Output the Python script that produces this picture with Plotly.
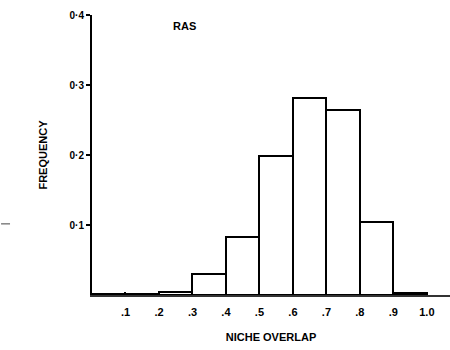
import plotly.graph_objects as go

bin_left = [0.0, 0.1, 0.2, 0.3, 0.4, 0.5, 0.6, 0.7, 0.8, 0.9]
frequency = [0.001, 0.001, 0.004, 0.030, 0.083, 0.199, 0.282, 0.264, 0.105, 0.003]
x_tick_vals = [0.1, 0.2, 0.3, 0.4, 0.5, 0.6, 0.7, 0.8, 0.9, 1.0]
x_tick_text = [".1", ".2", ".3", ".4", ".5", ".6", ".7", ".8", ".9", "1.0"]
y_tick_vals = [0.1, 0.2, 0.3, 0.4]
y_tick_text = ["0·1", "0·2", "0·3", "0·4"]

centers = [b + 0.05 for b in bin_left]

fig = go.Figure()
fig.add_trace(go.Bar(
    x=centers, y=frequency, width=0.1,
    marker=dict(color="white", line=dict(color="black", width=2)),
))

fam = "Liberation Sans"
fig.update_layout(
    width=450, height=350,
    margin=dict(l=92, r=0, t=15, b=55),
    paper_bgcolor="white", plot_bgcolor="white",
    showlegend=False,
    bargap=0,
    font=dict(family=fam, size=10, color="black"),
    xaxis=dict(
        range=[0, 1.069], showgrid=False, zeroline=False,
        showline=True, linecolor="#333", linewidth=1.5,
        tickvals=x_tick_vals, ticktext=["<b>%s</b>" % t for t in x_tick_text],
        ticks="inside", ticklen=3, tickcolor="black", tickwidth=2,
        ticklabelstandoff=6,
        tickfont=dict(family=fam, size=11, color="black"),
        title=dict(text="<b>NICHE OVERLAP</b>", font=dict(size=11, family=fam), standoff=16),
    ),
    yaxis=dict(
        range=[0, 0.4], showgrid=False, zeroline=False,
        showline=True, linecolor="black", linewidth=2,
        tickvals=y_tick_vals, ticktext=["<b>%s</b>" % t for t in y_tick_text],
        ticks="outside", ticklen=4, tickcolor="black", tickwidth=1.5,
        tickfont=dict(family=fam, size=10, color="black"),
        title=dict(text="<b>FREQUENCY</b>", font=dict(size=11, family=fam), standoff=20),
    ),
    annotations=[
        dict(text="<b>RAS</b>", x=0.275, y=0.385, xref="x", yref="y",
             showarrow=False, font=dict(size=11, family=fam, color="black")),
    ],
    shapes=[
        dict(type="line", xref="paper", yref="paper", x0=-0.254, x1=-0.229, y0=0.254, y1=0.254,
             line=dict(color="#444", width=1)),
    ],
)

fig.write_html("out.html")
